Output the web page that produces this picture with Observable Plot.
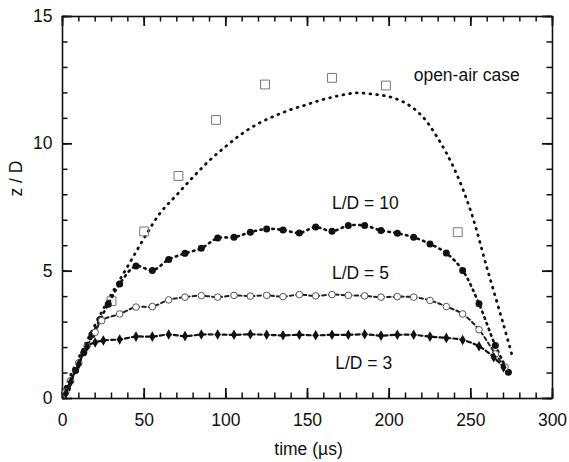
<!DOCTYPE html>
<html>
<head>
<meta charset="utf-8">
<script src="https://cdn.jsdelivr.net/npm/d3@7"></script>
<script src="https://cdn.jsdelivr.net/npm/@observablehq/plot@0.6"></script>
<style>
  html, body { margin: 0; padding: 0; background: #fff; }
  #chart { width: 569px; height: 462px; }
</style>
</head>
<body>
<div id="chart"></div>
<script>
// Open-air case: measured squares
const openAirSqT = [30, 50, 71, 94, 124, 165, 198, 242];
const openAirSqZ = [3.82, 6.56, 8.74, 10.94, 12.33, 12.59, 12.29, 6.53];

// Open-air case: simulated (dotted line)
const openAirT = [0, 10, 20, 30, 40, 50, 60, 70, 80, 90, 100, 110, 120, 130, 140, 150, 160, 170, 180, 190, 200, 210, 220, 230, 240, 250, 260, 270, 275];
const openAirZ = [0.2, 1.6, 2.9, 4.1, 5.2, 6.3, 7.3, 8.0, 8.7, 9.35, 9.9, 10.4, 10.8, 11.1, 11.35, 11.55, 11.75, 11.9, 12.0, 11.95, 11.85, 11.6, 11.1, 10.2, 9.0, 7.35, 5.1, 2.9, 1.75];

// L/D = 10 (filled circles)
const ld10T = [3, 8, 13, 18, 23, 28, 35, 45, 55, 65, 75, 85, 95, 105, 115, 125, 135, 145, 155, 165, 175, 185, 195, 205, 215, 225, 235, 245, 255, 265, 273];
const ld10Z = [0.4, 1.1, 1.8, 2.5, 3.1, 3.7, 4.5, 5.2, 5.03, 5.46, 5.7, 5.9, 6.3, 6.33, 6.53, 6.66, 6.62, 6.5, 6.73, 6.57, 6.79, 6.79, 6.6, 6.49, 6.33, 6.07, 5.71, 5.03, 3.72, 2.08, 1.03];

// L/D = 5 (open circles)
const ld5T = [2, 5, 10, 15, 20, 24, 35, 45, 55, 65, 75, 85, 95, 105, 115, 125, 135, 145, 155, 165, 175, 185, 195, 205, 215, 225, 235, 245, 255, 265, 271];
const ld5Z = [0.25, 0.7, 1.4, 2.05, 2.6, 3.06, 3.32, 3.59, 3.61, 3.87, 3.98, 4.04, 3.98, 4.05, 4.02, 4.05, 4.0, 4.08, 4.03, 4.08, 4.05, 4.03, 3.98, 4.0, 3.98, 3.85, 3.61, 3.32, 2.7, 1.75, 1.23];

// L/D = 3 (filled diamonds)
const ld3T = [2, 5, 10, 15, 20, 25, 35, 45, 55, 65, 75, 85, 95, 105, 115, 125, 135, 145, 155, 165, 175, 185, 195, 205, 215, 225, 235, 245, 255, 264, 270];
const ld3Z = [0.2, 0.65, 1.35, 2.04, 2.2, 2.28, 2.32, 2.43, 2.43, 2.51, 2.45, 2.51, 2.51, 2.5, 2.52, 2.5, 2.48, 2.5, 2.48, 2.5, 2.5, 2.52, 2.47, 2.5, 2.5, 2.43, 2.38, 2.3, 2.05, 1.62, 1.23];

// Annotations
const labelText = ["open-air case", "L/D = 10", "L/D = 5", "L/D = 3"];
const labelT = [215, 165, 165, 167];
const labelZ = [12.68, 7.66, 4.9, 1.37];

// Ticks
const xMajor = [0, 50, 100, 150, 200, 250, 300];
const xMinor = [0, 10, 20, 30, 40, 50, 60, 70, 80, 90, 100, 110, 120, 130, 140, 150, 160, 170, 180, 190, 200, 210, 220, 230, 240, 250, 260, 270, 280, 290, 300];
const yMajor = [0, 5, 10, 15];
const yMinor = [0, 1, 2, 3, 4, 5, 6, 7, 8, 9, 10, 11, 12, 13, 14, 15];
const xLabel = "time (µs)";
const yLabel = "z / D";

const zip = (T, Z) => T.map((t, i) => ({t, z: Z[i]}));
const openAirSq = zip(openAirSqT, openAirSqZ);
const openAir = zip(openAirT, openAirZ);
const ld10 = zip(ld10T, ld10Z);
const ld5 = zip(ld5T, ld5Z);
const ld3 = zip(ld3T, ld3Z);
const labels = labelText.map((s, i) => ({s, t: labelT[i], z: labelZ[i]}));

const FS = 17.5;
const W = 569, H = 462, ML = 62, MR = 17, MT = 16, MB = 64;
const FW = W - ML - MR, FH = H - MT - MB;

// inward ticks: rules spanning the frame, inset to a short length
function ticksX(vals, side, len, sw) {
  const o = {x: d => d, stroke: "#111", strokeWidth: sw};
  if (side === "bottom") o.insetTop = FH - len; else o.insetBottom = FH - len;
  return Plot.ruleX(vals, o);
}
function ticksY(vals, side, len, sw) {
  const o = {y: d => d, stroke: "#111", strokeWidth: sw};
  if (side === "left") o.insetRight = FW - len; else o.insetLeft = FW - len;
  return Plot.ruleY(vals, o);
}

const chart = Plot.plot({
  width: W,
  height: H,
  marginLeft: ML,
  marginRight: MR,
  marginTop: MT,
  marginBottom: MB,
  x: {domain: [0, 300]},
  y: {domain: [0, 15]},
  style: {fontFamily: "'Liberation Sans', Arial, sans-serif", fontSize: FS + "px", background: "#fff", color: "#111"},
  marks: [
    // tick labels
    Plot.axisX({ticks: xMajor, tickSize: 0, tickPadding: 15, label: null, fontSize: FS}),
    Plot.axisY({ticks: yMajor, tickSize: 0, tickPadding: 10, label: null, fontSize: FS}),
    // inward ticks on all sides
    ticksX(xMinor, "bottom", 5.5, 1.5),
    ticksX(xMajor, "bottom", 10, 1.8),
    ticksX(xMinor, "top", 5.5, 1.5),
    ticksX(xMajor, "top", 10, 1.8),
    ticksY(yMinor, "left", 5.5, 1.5),
    ticksY(yMajor, "left", 10, 1.8),
    ticksY(yMinor, "right", 5.5, 1.5),
    ticksY(yMajor, "right", 10, 1.8),
    Plot.frame({stroke: "#111", strokeWidth: 1.6}),
    // axis titles
    Plot.text([xLabel], {frameAnchor: "bottom", text: d => d, dx: 1, dy: 51, lineAnchor: "middle", fontSize: FS}),
    Plot.text([yLabel], {frameAnchor: "left", text: d => d, dx: -46, dy: -11, rotate: -90, lineAnchor: "middle", fontSize: FS}),
    // open-air
    Plot.line(openAir, {x: "t", y: "z", stroke: "#111", strokeWidth: 2.8, strokeDasharray: "0.8 6", strokeLinecap: "round", curve: "catmull-rom"}),
    Plot.dot(openAirSq, {x: "t", y: "z", symbol: "square", r: 5, stroke: "#777", strokeWidth: 1, fill: "none"}),
    // L/D = 10
    Plot.line(ld10, {x: "t", y: "z", stroke: "#111", strokeWidth: 2.6, strokeDasharray: "1.5 4.5", strokeLinecap: "round", curve: "catmull-rom"}),
    Plot.dot(ld10, {x: "t", y: "z", r: 3.5, fill: "#111", stroke: "none"}),
    // L/D = 5
    Plot.line(ld5, {x: "t", y: "z", stroke: "#222", strokeWidth: 2, strokeDasharray: "3.5 3", curve: "catmull-rom"}),
    Plot.dot(ld5, {x: "t", y: "z", r: 3.3, fill: "#fff", stroke: "#555", strokeWidth: 1}),
    // L/D = 3
    Plot.line(ld3, {x: "t", y: "z", stroke: "#111", strokeWidth: 2.2, strokeDasharray: "4 3", curve: "catmull-rom"}),
    Plot.dot(ld3, {x: "t", y: "z", symbol: "diamond", r: 3.2, fill: "#111", stroke: "none"}),
    // annotations
    Plot.text(labels, {x: "t", y: "z", text: "s", textAnchor: "start", fontSize: FS, fill: "#111"})
  ]
});

document.getElementById("chart").appendChild(chart);
</script>
</body>
</html>
